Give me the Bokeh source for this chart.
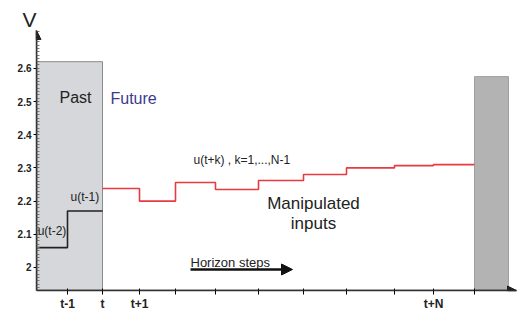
from bokeh.plotting import figure
from bokeh.models import Range1d, FixedTicker, Arrow, NormalHead, Label
from bokeh.embed import file_html
from bokeh.resources import INLINE

# ---- data ----
past_x = [0.0, 0.775, 1.65]                 # step boundaries t-2, t-1, t
past_u = [2.06, 2.17]                       # u(t-2), u(t-1)
future_x = [1.65, 2.575, 3.475, 4.475, 5.55, 6.675, 7.75, 8.95, 9.925, 10.95]
future_u = [2.238, 2.200, 2.256, 2.235, 2.262, 2.280, 2.300, 2.307, 2.310]
past_top = 2.62
end_block = [10.95, 11.8]
end_top = 2.575
y_ticks = [2.0, 2.1, 2.2, 2.3, 2.4, 2.5, 2.6]
y_tick_labels = ["2", "2.1", "2.2", "2.3", "2.4", "2.5", "2.6"]
x_ticks = past_x[1:] + future_x[1:]
x_tick_labels = ["t-1", "t", "t+1", "", "", "", "", "", "", "t+N", ""]

FONT = "Liberation Sans"
Y0, Y1 = 1.9307, 2.7139
X0, X1 = 0.0, 12.0

p = figure(frame_width=480, frame_height=260, x_range=Range1d(X0, X1), y_range=Range1d(Y0, Y1),
           output_backend="svg", toolbar_location=None, title="V",
           min_border_left=36, min_border_right=2, min_border_top=30, min_border_bottom=20)
p.grid.visible = False
p.outline_line_color = None
p.background_fill_color = "white"
p.title.text_font = FONT
p.title.text_font_size = "21px"
p.title.text_font_style = "normal"
p.title.text_color = "#222222"
p.title.align = "left"
p.title.offset = -14
p.title.standoff = 0

# shaded regions
p.quad(left=[past_x[0]], right=[past_x[-1]], top=[past_top], bottom=[Y0],
       fill_color="#d5d7da", line_color="#8a8a8a", line_width=1)
p.quad(left=[end_block[0]], right=[end_block[1]], top=[end_top], bottom=[Y0],
       fill_color="#b3b3b3", line_color="#a0a0a0", line_width=1)

# steps
p.step(x=past_x, y=past_u + [past_u[-1]], mode="after", line_color="#222222", line_width=1.6)
p.step(x=future_x, y=future_u + [future_u[-1]], mode="after", line_color="#e63b3f", line_width=1.6)

# axes
ya = p.yaxis[0]
ya.ticker = FixedTicker(ticks=y_ticks, minor_ticks=[round(1.93 + 0.01 * i, 3) for i in range(79)])
ya.major_label_overrides = {t: l for t, l in zip(y_ticks, y_tick_labels)}
ya.major_label_text_font = FONT
ya.major_label_text_font_style = "bold"
ya.major_label_text_font_size = "10px"
ya.major_label_text_color = "#222222"
ya.major_tick_out = 3
ya.major_tick_in = 0
ya.minor_tick_in = 3
ya.minor_tick_out = 0
ya.minor_tick_line_color = "#777777"
ya.major_label_standoff = 2
ya.axis_line_color = "#333333"
ya.axis_line_width = 1.5

xa = p.xaxis[0]
xa.ticker = FixedTicker(ticks=x_ticks)
xa.major_label_overrides = {t: l for t, l in zip(x_ticks, x_tick_labels)}
xa.major_label_text_font = FONT
xa.major_label_text_font_style = "bold"
xa.major_label_text_font_size = "12px"
xa.major_label_text_color = "#222222"
xa.major_tick_out = 4
xa.major_tick_in = 2
xa.minor_tick_line_color = None
xa.major_label_standoff = 2
xa.axis_line_color = "#333333"
xa.axis_line_width = 1.5

# axis arrows
p.add_layout(Arrow(x_start=X0, y_start=Y0, x_end=X0, y_end=Y1, line_color="#333333", line_width=1.5,
                   end=NormalHead(size=9, fill_color="#222222", line_color="#222222")))
p.add_layout(Arrow(x_start=X0, y_start=Y0, x_end=X1, y_end=Y0, line_color="#333333", line_width=1.5,
                   end=NormalHead(size=9, fill_color="#222222", line_color="#222222")))

def lab(x, y, text, size, color="#222222", align="left"):
    p.add_layout(Label(x=x, y=y, text=text, text_font=FONT, text_font_size=size,
                       text_color=color, text_align=align, text_baseline="middle"))

lab(0.975, 2.512, "Past", "16px", align="center")
lab(1.85, 2.509, "Future", "16px", color="#3b3b8c")
lab(0.85, 2.211, "u(t-1)", "12px")
lab(0.03, 2.111, "u(t-2)", "12px")
lab(3.925, 2.325, "u(t+k) , k=1,...,N-1", "12px")
lab(6.925, 2.193, "Manipulated", "17px", align="center")
lab(6.925, 2.1325, "inputs", "17px", align="center")
lab(3.85, 2.015, "Horizon steps", "13px")

p.add_layout(Arrow(x_start=3.85, y_start=1.994, x_end=6.4, y_end=1.994, line_color="#111111", line_width=2.5,
                   end=NormalHead(size=11, fill_color="#111111", line_color="#111111")))

open("out.html", "w").write(file_html(p, INLINE))
